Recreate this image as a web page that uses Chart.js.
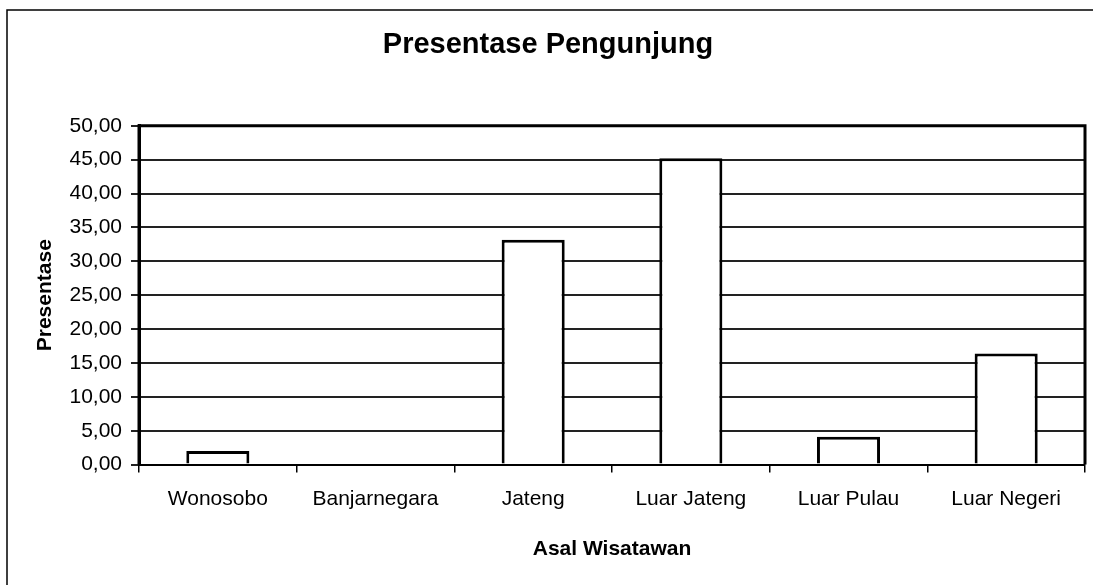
<!DOCTYPE html>
<html>
<head>
<meta charset="utf-8">
<script src="https://cdn.jsdelivr.net/npm/chart.js@4.4.1/dist/chart.umd.min.js"></script>
<style>
    html, body { margin: 0; padding: 0; background: #fff; }
    #wrap { width: 1093px; height: 585px; position: relative; }
</style>
</head>
<body>
<div id="wrap"><canvas id="chart" width="1093" height="585"></canvas></div>
<script>
const categories = ['Wonosobo', 'Banjarnegara', 'Jateng', 'Luar Jateng', 'Luar Pulau', 'Luar Negeri'];
const presentase = [2.0, 0, 33.2, 45.2, 4.1, 16.4];
const yMin = 0;
const yMax = 50;
const yStep = 5;

const chartTitle = 'Presentase Pengunjung';
const xTitle = 'Asal Wisatawan';
const yTitle = 'Presentase';

const fontFamily = 'Arial, "Liberation Sans", sans-serif';

// outer frame + plot border like the scanned excel chart
const framePlugin = {
    id: 'frame',
    beforeDraw(chart) {
        const ctx = chart.ctx;
        ctx.save();
        ctx.fillStyle = '#fff';
        ctx.fillRect(0, 0, chart.width, chart.height);
        ctx.strokeStyle = '#000';
        ctx.lineWidth = 1.5;
        ctx.beginPath();
        ctx.moveTo(7, chart.height);
        ctx.lineTo(7, 10);
        ctx.lineTo(chart.width, 10);
        ctx.stroke();
        ctx.restore();
    },
    afterDatasetsDraw(chart) {
        const a = chart.chartArea;
        const ctx = chart.ctx;
        ctx.save();
        ctx.strokeStyle = '#000';
        ctx.lineWidth = 3;
        ctx.beginPath();
        ctx.moveTo(a.left, a.bottom);
        ctx.lineTo(a.left, a.top);
        ctx.lineTo(a.right, a.top);
        ctx.lineTo(a.right, a.bottom);
        ctx.stroke();
        ctx.restore();
    }
};

const ctx = document.getElementById('chart').getContext('2d');
new Chart(ctx, {
    type: 'bar',
    data: {
        labels: categories,
        datasets: [{
            label: yTitle,
            data: presentase,
            backgroundColor: '#fff',
            borderColor: '#000',
            borderWidth: 3,
            barPercentage: 0.4,
            categoryPercentage: 1
        }]
    },
    options: {
        responsive: false,
        animation: false,
        layout: { padding: { left: 11, right: 8, top: 0, bottom: 0 } },
        plugins: {
            legend: { display: false },
            tooltip: { enabled: false },
            title: {
                display: true,
                text: chartTitle,
                color: '#000',
                font: { family: fontFamily, size: 29, weight: 'bold' },
                padding: { top: 28, bottom: 63 }
            }
        },
        scales: {
            x: {
                grid: { display: true, drawOnChartArea: false, drawTicks: true, tickLength: 8, color: '#000', lineWidth: 1.5 },
                border: { display: true, color: '#000', width: 2 },
                ticks: {
                    color: '#000',
                    padding: 14,
                    maxRotation: 0,
                    font: { family: fontFamily, size: 21 }
                },
                title: {
                    display: true,
                    text: xTitle,
                    color: '#000',
                    font: { family: fontFamily, size: 21, weight: 'bold' },
                    padding: { top: 11, bottom: 23 }
                }
            },
            y: {
                min: yMin,
                max: yMax,
                afterFit(scale) { scale.width = 128; },
                grid: { color: '#222', lineWidth: 2, tickLength: 8 },
                border: { display: true, color: '#000', width: 3 },
                ticks: {
                    stepSize: yStep,
                    color: '#000',
                    padding: 9,
                    font: { family: fontFamily, size: 21 },
                    callback: (v) => Number(v).toFixed(2).replace('.', ',')
                },
                title: {
                    display: true,
                    text: yTitle,
                    color: '#000',
                    font: { family: fontFamily, size: 21, weight: 'bold' },
                    padding: { top: 22, bottom: 0 }
                }
            }
        }
    },
    plugins: [framePlugin]
});
</script>
</body>
</html>
